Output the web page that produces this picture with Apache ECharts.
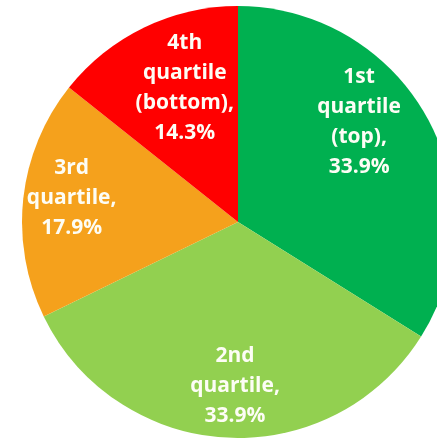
<!DOCTYPE html>
<html>
<head>
<meta charset="utf-8">
<script src="https://cdn.jsdelivr.net/npm/echarts@6/dist/echarts.min.js"></script>
<style>
  html, body { margin: 0; padding: 0; background: #fff; }
  #quartileChart { width: 437px; height: 438px; }
</style>
</head>
<body>
<div id="quartileChart"></div>
<script>
// 数据
var quartileNames = ['1st\nquartile\n(top)', '2nd\nquartile', '3rd\nquartile', '4th\nquartile\n(bottom)']
var quartileShares = [33.9, 33.9, 17.9, 14.3]
var quartileColors = ['#00B050', '#92D050', '#F5A11C', '#FF0000']

// nudge labels off the default mid-radius spot, like the original
var labelShift = [[24, -46], [3, 53], [-56, -12], [-5, -34]]

var option = {
  animation: false,
  series: [
    {
      type: 'pie',
      center: [238, 222],
      radius: 216,
      startAngle: 90,
      clockwise: true,
      avoidLabelOverlap: false,
      percentPrecision: 1,
      emphasis: { disabled: true },
      itemStyle: { borderWidth: 0 },
      label: {
        show: true,
        position: 'inside',
        formatter: '{b},\n{d}%',
        color: '#fdfdf5',
        fontFamily: 'Open Sans',
        fontWeight: 'bold',
        fontSize: 21,
        lineHeight: 30,
        align: 'center'
      },
      labelLine: { show: false },
      labelLayout: function (params) {
        var s = labelShift[params.dataIndex]
        return { dx: s[0], dy: s[1] }
      },
      data: quartileNames.map(function (name, i) {
        return {
          name: name,
          value: quartileShares[i],
          itemStyle: { color: quartileColors[i] }
        }
      })
    }
  ]
}

var myChart = echarts.init(document.getElementById('quartileChart'))
myChart.setOption(option)
window.addEventListener('resize', function () {
  myChart.resize()
})
</script>
</body>
</html>
